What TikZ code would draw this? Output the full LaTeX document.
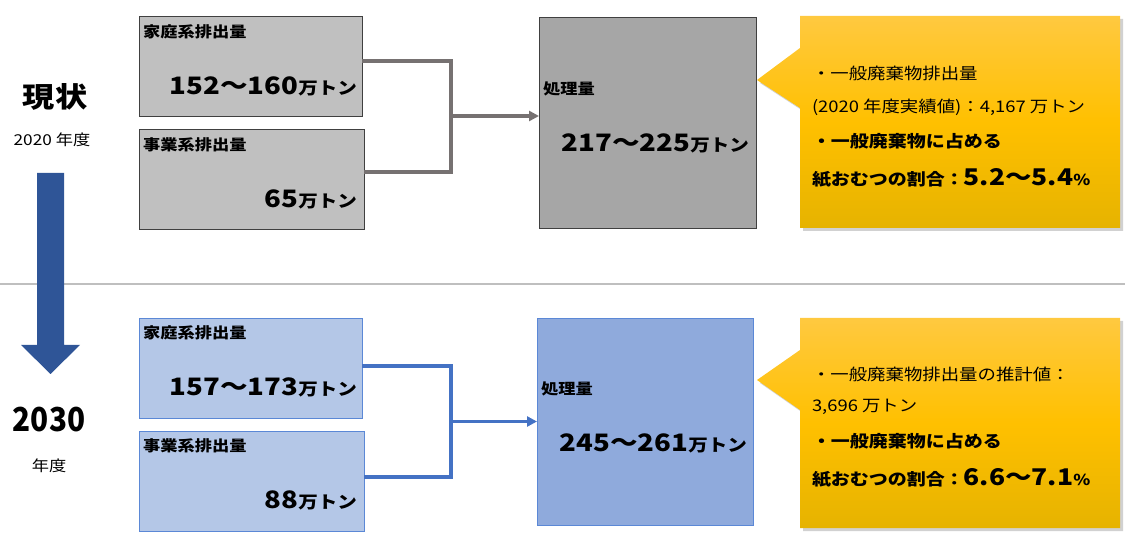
\documentclass[tikz,border=0pt]{standalone}
\usepackage{fontspec}
\usepackage{graphicx}
\setmainfont{Noto Sans CJK JP}
\usetikzlibrary{arrows.meta,shadows}
\definecolor{gboxc}{HTML}{C0C0C0}
\definecolor{gprocc}{HTML}{A6A6A6}
\definecolor{glinec}{HTML}{767171}
\definecolor{bboxc}{HTML}{B4C7E7}
\definecolor{bprocc}{HTML}{8FAADC}
\definecolor{blinec}{HTML}{4472C4}
\definecolor{bdrawc}{HTML}{5B88D6}
\definecolor{arrowblue}{HTML}{2F5597}
\definecolor{goldtop}{HTML}{FFC940}
\definecolor{goldmid}{HTML}{FFC000}
\definecolor{goldbot}{HTML}{E6B300}
\definecolor{sepc}{HTML}{BFBFBF}
\newcommand{\hs}[1]{\scalebox{1.15}[1]{#1}}
\newcommand{\fs}[1]{\fontsize{#1}{#1}\selectfont}
\begin{document}
\begin{tikzpicture}[x=1pt,y=-1pt,
  gbox/.style={draw=black!75, line width=0.8pt, fill=gboxc, inner sep=0pt, outer sep=0pt},
  gproc/.style={draw=black!75, line width=0.8pt, fill=gprocc, inner sep=0pt, outer sep=0pt},
  bbox/.style={draw=bdrawc, line width=0.8pt, fill=bboxc, inner sep=0pt, outer sep=0pt},
  bproc/.style={draw=bdrawc, line width=0.8pt, fill=bprocc, inner sep=0pt, outer sep=0pt},
  gconn/.style={draw=glinec, line width=3.3pt},
  bconn/.style={draw=blinec, line width=3.3pt},
  callout/.style={top color=goldtop, bottom color=goldbot, middle color=goldmid,
     drop shadow={shadow xshift=3pt, shadow yshift=-3pt, opacity=0.3, fill=black!60}},
  lbl/.style={inner sep=0pt, outer sep=0pt, font=\bfseries\fs{15}},
  txt/.style={inner sep=0pt, outer sep=0pt, font=\fs{16}},
  btxt/.style={inner sep=0pt, outer sep=0pt, font=\bfseries\fs{16.5}},
  val/.style={inner sep=0pt, outer sep=0pt, font=\bfseries}
]
\useasboundingbox (0,0) rectangle (1125,534);

% separator
\draw[sepc, line width=1.5pt] (0,284) -- (1125,284);

% left labels
\node[inner sep=0pt, font=\bfseries\fs{28}] (genjo) at (55,97) {\hs{現状}};
\node[inner sep=0pt, font=\fs{15}] (y2020) at (52,140) {\hs{2020 年度}};
\node[inner sep=0pt, font=\bfseries\fs{33}] (y2030) at (49,420) {\scalebox{0.9}[1]{2030}};
\node[inner sep=0pt, font=\fs{15}] (nendo) at (49,466) {\hs{年度}};

% big arrow
\fill[arrowblue] (37,173) -- (64,173) -- (64,345) -- (80,345) -- (50.5,374) -- (21,345) -- (37,345) -- cycle;

% ---------- top row ----------
\node[gbox, minimum width=223pt, minimum height=100pt] (h1) at (250.5,66) {};
\node[gbox, minimum width=225pt, minimum height=100pt] (b1) at (251.5,179) {};
\node[gproc, minimum width=217pt, minimum height=211pt] (p1) at (647.5,122.5) {};

\node[lbl, anchor=west] (h1l) at (143,32) {\hs{家庭系排出量}};
\node[val, anchor=east] (h1v) at (357,86) {\hs{\fs{24}152～160\fs{17}万トン}};
\node[lbl, anchor=west] (b1l) at (143,145) {\hs{事業系排出量}};
\node[val, anchor=east] (b1v) at (357,199) {\hs{\fs{24}65\fs{17}万トン}};
\node[lbl, anchor=west] (p1l) at (543,89) {\hs{処理量}};
\node[val, anchor=east] (p1v) at (749,143) {\hs{\fs{24}217～225\fs{17}万トン}};

\coordinate (t1) at (451,61);
\coordinate (t2) at (451,172);
\coordinate (t3) at (451,116);
\draw[gconn] (h1.east |- t1) -- (t1) -- (t2) -- (b1.east |- t2);
\draw[gconn, -{Triangle[length=10pt,width=10pt]}] (t3) -- (p1.west |- t3);

\path[callout] (800,16) -- (1120,16) -- (1120,228) -- (800,228) -- (800,108) -- (757,80) -- (800,48) -- cycle;
\node[txt, anchor=west] (c1a) at (812,73) {\hs{・一般廃棄物排出量}};
\node[txt, anchor=west] (c1b) at (812,107) {\hs{(2020 年度実績値)：4,167 万トン}};
\node[btxt, anchor=west] (c1c) at (812,141) {\hs{・一般廃棄物に占める}};
\node[btxt, anchor=west] (c1d) at (812,178) {\hs{紙おむつの割合：\fs{23}5.2～5.4\fs{15}\%}};

% ---------- bottom row ----------
\node[bbox, minimum width=223pt, minimum height=100pt] (h2) at (250.5,368) {};
\node[bbox, minimum width=225pt, minimum height=100pt] (b2) at (251.5,481) {};
\node[bproc, minimum width=216pt, minimum height=207pt] (p2) at (645,421.5) {};

\node[lbl, anchor=west] (h2l) at (143,333) {\hs{家庭系排出量}};
\node[val, anchor=east] (h2v) at (357,387) {\hs{\fs{24}157～173\fs{17}万トン}};
\node[lbl, anchor=west] (b2l) at (143,446) {\hs{事業系排出量}};
\node[val, anchor=east] (b2v) at (357,500) {\hs{\fs{24}88\fs{17}万トン}};
\node[lbl, anchor=west] (p2l) at (541,389) {\hs{処理量}};
\node[val, anchor=east] (p2v) at (747,443) {\hs{\fs{24}245～261\fs{17}万トン}};

\coordinate (u1) at (451,366);
\coordinate (u2) at (451,477);
\coordinate (u3) at (451,421.5);
\draw[bconn] (h2.east |- u1) -- (u1) -- (u2) -- (b2.east |- u2);
\draw[bconn, -{Triangle[length=10pt,width=10pt]}] (u3) -- (p2.west |- u3);

\path[callout] (800,318) -- (1120,318) -- (1120,528) -- (800,528) -- (800,410) -- (757,380) -- (800,350) -- cycle;
\node[txt, anchor=west] (c2a) at (812,374) {\hs{・一般廃棄物排出量の推計値：}};
\node[txt, anchor=west] (c2b) at (812,407) {\hs{3,696 万トン}};
\node[btxt, anchor=west] (c2c) at (812,441) {\hs{・一般廃棄物に占める}};
\node[btxt, anchor=west] (c2d) at (812,478) {\hs{紙おむつの割合：\fs{23}6.6～7.1\fs{15}\%}};
\end{tikzpicture}
\end{document}
